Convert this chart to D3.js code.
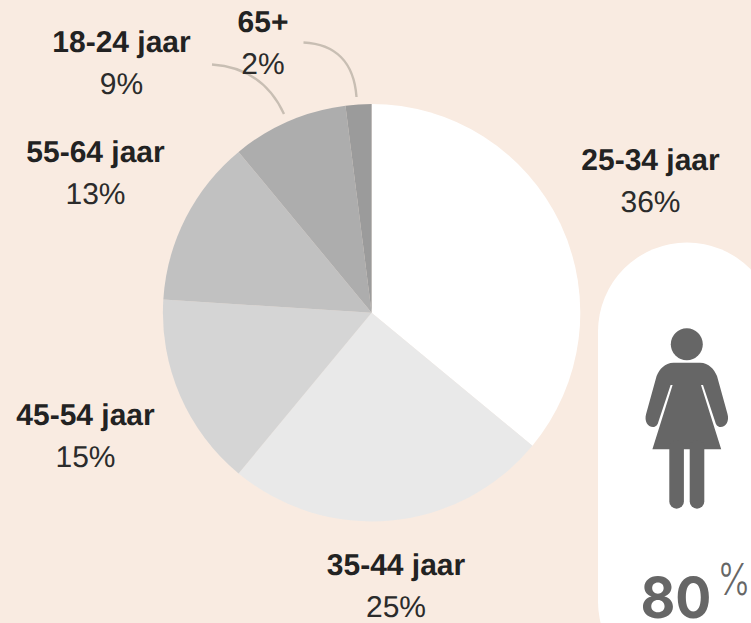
<!DOCTYPE html>
<html><head><meta charset="utf-8"><script src="https://cdn.jsdelivr.net/npm/d3@7"></script>
<style>html,body{margin:0;padding:0;background:#f9ebe1;overflow:hidden}svg{display:block}text{text-rendering:geometricPrecision}</style></head>
<body><svg id="c" width="751" height="623"></svg>
<script>
const categories = ["25-34 jaar","35-44 jaar","45-54 jaar","55-64 jaar","18-24 jaar","65+"];
const shares = [36,25,15,13,9,2];
const sliceColors = ["#ffffff","#e9e9e9","#d5d5d5","#c1c1c1","#adadad","#9b9b9b"];
const labelAnchors = [[650.5,170],[396,575],[85.5,425],[95.5,162],[121.5,52],[263,32]];

const svg = d3.select("#c");
const cx = 371.6, cy = 312.7, r = 208.7;
svg.append("rect").attr("width",751).attr("height",623).attr("fill","#f9ebe1");

const pie = d3.pie().sort(null).value(d=>d)(shares);
const arc = d3.arc().innerRadius(0).outerRadius(r);
svg.append("g").attr("transform",`translate(${cx},${cy})`).selectAll("path").data(pie).join("path")
  .attr("d",arc).attr("fill",(d,i)=>sliceColors[i]);

// leader lines
const leaders = ["M212,64.5C250,67 272,88 284,114","M303.5,42.5C335,44 354,62 356.5,97"];
svg.selectAll("path.l").data(leaders).join("path").attr("class","l").attr("d",d=>d)
  .attr("fill","none").attr("stroke","#c8beb3").attr("stroke-width",2.4);

const font = "'Liberation Sans',Arial,sans-serif";
categories.forEach((c,i)=>{
  const [x,y]=labelAnchors[i];
  svg.append("text").attr("x",x).attr("y",y).attr("text-anchor","middle")
    .attr("font-family",font).attr("font-size",30).attr("font-weight",700).attr("fill","#222").text(c);
  svg.append("text").attr("x",x).attr("y",y+42).attr("text-anchor","middle")
    .attr("font-family",font).attr("font-size",30).attr("fill","#2b2b2b").text(shares[i]+"%");
});

// pill panel
svg.append("rect").attr("x",598).attr("y",242.5).attr("width",178).attr("height",448).attr("rx",89).attr("fill","#fff");

// woman icon
const g = svg.append("g").attr("fill","#666");
g.append("circle").attr("cx",686.8).attr("cy",344.2).attr("r",16);
g.append("path").attr("d","M700,362.7C709,363 714,369 717,376L727.5,414C729.5,421 726,427 720.5,427C717.5,427 715.8,424.5 715.1,421.5L703,385L701,385L721.2,449.3H652.4L672.6,385L670.6,385L658.5,421.5C657.8,424.5 656.1,427 653.1,427C647.6,427 644.1,421 646.1,414L656.6,376C659.6,369 664.6,363 673.6,362.7Z");
g.selectAll("rect").data([669.3,689.7]).join("rect").attr("x",d=>d).attr("y",440).attr("width",14.6).attr("height",68.7).attr("rx",7.3);

svg.append("text").attr("x",640.5).attr("y",617.5).attr("font-family","Inter,sans-serif").attr("font-size",57).attr("font-weight",700)
  .attr("textLength",71).attr("lengthAdjust","spacingAndGlyphs").attr("fill","#666").text("80");
svg.append("text").attr("x",717.5).attr("y",595).attr("font-family","Inter,sans-serif").attr("font-size",44).attr("font-weight",300)
  .attr("textLength",33).attr("lengthAdjust","spacingAndGlyphs").attr("fill","#666").text("%");
</script></body></html>
